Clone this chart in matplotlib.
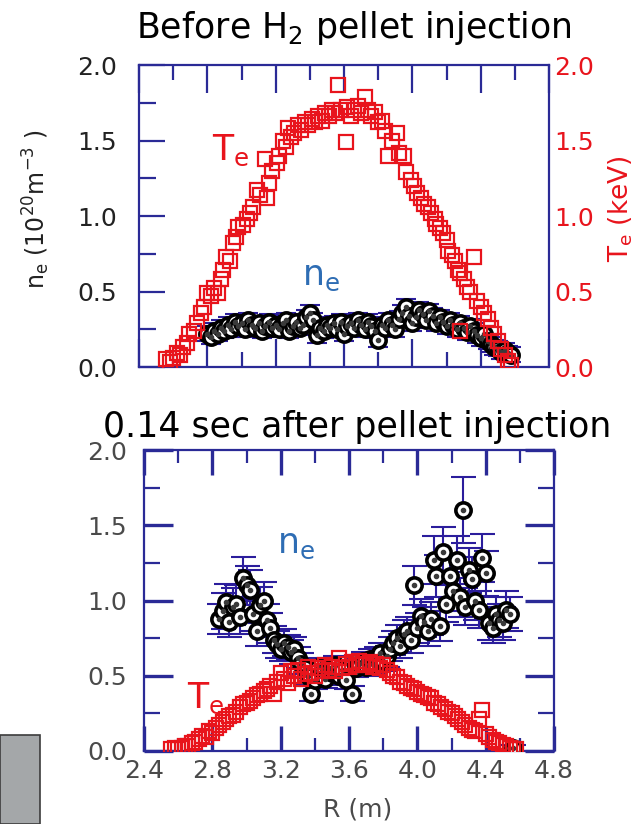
import matplotlib
matplotlib.use("Agg")
import matplotlib.pyplot as plt
from matplotlib.patches import Rectangle
from matplotlib.ticker import MultipleLocator

plt.rcParams["font.family"] = ["DejaVu Sans"]
plt.rcParams["mathtext.fontset"] = "dejavusans"

NAVY = "#2a2a96"
RED = "#e8141c"
LABEL_BLUE = "#2e6db4"
EBAR = "#2b1d9c"

X_TICKS = [2.4, 2.8, 3.2, 3.6, 4.0, 4.4, 4.8]
Y_TICKS = [0.0, 0.5, 1.0, 1.5, 2.0]

# ---- before pellet injection ----
TOP_R_TE = [2.56, 2.58, 2.60, 2.62, 2.64, 2.66, 2.68, 2.69, 2.72, 2.74, 2.76, 2.78,
            2.80, 2.82, 2.84, 2.86, 2.88, 2.89, 2.91, 2.93, 2.95, 2.97, 2.98, 3.01,
            3.03, 3.05, 3.07, 3.09, 3.11, 3.14, 3.15, 3.16, 3.18, 3.21, 3.22, 3.24,
            3.26, 3.27, 3.29, 3.31, 3.33, 3.35, 3.37, 3.39, 3.41, 3.43, 3.45, 3.47,
            3.49, 3.51, 3.53, 3.55, 3.565, 3.58, 3.61, 3.62, 3.64, 3.66, 3.68, 3.70,
            3.72, 3.74, 3.76, 3.78, 3.80, 3.82, 3.84, 3.86, 3.88, 3.91, 3.92, 3.95,
            3.96, 3.99, 4.01, 4.03, 4.05, 4.07, 4.09, 4.11, 4.13, 4.14, 4.16, 4.18,
            4.20, 4.21, 4.23, 4.25, 4.27, 4.28, 4.30, 4.32, 4.34, 4.36, 4.38, 4.40,
            4.42, 4.44, 4.46, 4.48, 4.50, 4.52, 4.54, 4.56, 4.58]
TOP_TE = [0.05, 0.03, 0.06, 0.09, 0.08, 0.13, 0.16, 0.22, 0.24, 0.29, 0.36, 0.40,
          0.49, 0.47, 0.52, 0.49, 0.58, 0.64, 0.73, 0.70, 0.82, 0.86, 0.93, 0.94,
          0.98, 1.02, 1.06, 1.17, 1.14, 1.38, 1.12, 1.22, 1.30, 1.35, 1.40, 1.50,
          1.46, 1.58, 1.52, 1.55, 1.60, 1.57, 1.62, 1.60, 1.64, 1.62, 1.66, 1.63,
          1.68, 1.66, 1.70, 1.68, 1.87, 1.70, 1.49, 1.72, 1.66, 1.70, 1.73, 1.68,
          1.79, 1.70, 1.66, 1.69, 1.62, 1.63, 1.56, 1.40, 1.50, 1.55, 1.42, 1.40,
          1.29, 1.24, 1.20, 1.15, 1.12, 1.08, 1.06, 1.02, 0.98, 0.95, 0.92, 0.89,
          0.84, 0.77, 0.74, 0.70, 0.64, 0.62, 0.58, 0.53, 0.50, 0.73, 0.44, 0.40,
          0.36, 0.32, 0.26, 0.22, 0.17, 0.12, 0.08, 0.04, 0.01]
TOP_R_TE_OUT = [4.28]
TOP_TE_OUT = [0.24]

TOP_R_NE = [2.80, 2.82, 2.84, 2.86, 2.88, 2.90, 2.92, 2.94, 2.96, 2.98, 3.00, 3.02,
            3.04, 3.06, 3.08, 3.10, 3.12, 3.14, 3.16, 3.18, 3.20, 3.22, 3.24, 3.26,
            3.28, 3.30, 3.32, 3.34, 3.36, 3.38, 3.40, 3.42, 3.44, 3.46, 3.48, 3.50,
            3.52, 3.54, 3.56, 3.58, 3.60, 3.62, 3.64, 3.66, 3.68, 3.70, 3.72, 3.74,
            3.76, 3.78, 3.80, 3.82, 3.84, 3.86, 3.88, 3.90, 3.92, 3.94, 3.96, 3.98,
            4.00, 4.02, 4.04, 4.06, 4.08, 4.10, 4.12, 4.14, 4.16, 4.18, 4.20, 4.22,
            4.24, 4.26, 4.28, 4.30, 4.32, 4.34, 4.36, 4.38, 4.40, 4.42, 4.44, 4.46,
            4.48, 4.50, 4.52, 4.54, 4.56, 4.58]
TOP_NE = [0.22, 0.20, 0.24, 0.22, 0.26, 0.24, 0.28, 0.25, 0.30, 0.27, 0.29, 0.25,
          0.31, 0.28, 0.26, 0.29, 0.24, 0.27, 0.30, 0.26, 0.28, 0.25, 0.29, 0.31,
          0.24, 0.27, 0.30, 0.26, 0.28, 0.33, 0.36, 0.31, 0.21, 0.26, 0.24, 0.28,
          0.26, 0.29, 0.25, 0.30, 0.22, 0.27, 0.29, 0.26, 0.31, 0.28, 0.25, 0.30,
          0.27, 0.24, 0.18, 0.28, 0.26, 0.31, 0.28, 0.25, 0.32, 0.36, 0.40, 0.34,
          0.29, 0.33, 0.38, 0.35, 0.31, 0.37, 0.34, 0.29, 0.33, 0.30, 0.27, 0.31,
          0.28, 0.25, 0.29, 0.26, 0.23, 0.27, 0.24, 0.21, 0.19, 0.22, 0.17, 0.15,
          0.13, 0.12, 0.10, 0.11, 0.09, 0.08]
TOP_NE_ERR = 0.05

# ---- 0.14 s after pellet injection ----
BOT_R_NE = [2.84, 2.86, 2.88, 2.90, 2.92, 2.94, 2.96, 2.98, 3.00, 3.02, 3.04, 3.06,
            3.08, 3.10, 3.12, 3.14, 3.16, 3.18, 3.20, 3.22, 3.24, 3.26, 3.28, 3.30,
            3.32, 3.34, 3.36, 3.38, 3.40, 3.42, 3.44, 3.46, 3.48, 3.50, 3.52, 3.54,
            3.56, 3.58, 3.62, 3.64, 3.66, 3.68, 3.70, 3.72, 3.74, 3.76, 3.78, 3.80,
            3.82, 3.84, 3.86, 3.88, 3.90, 3.92, 3.94, 3.96, 3.98, 4.00, 4.02, 4.04,
            4.06, 4.08, 4.10, 4.11, 4.13, 4.15, 4.17, 4.19, 4.21, 4.23, 4.25, 4.27,
            4.28, 4.30, 4.32, 4.34, 4.36, 4.38, 4.40, 4.42, 4.44, 4.46, 4.48, 4.50,
            4.52, 4.54, 4.56]
BOT_NE = [0.88, 0.93, 0.99, 0.86, 0.96, 0.98, 0.89, 1.15, 1.10, 1.07, 0.91, 0.80,
          0.97, 1.00, 0.87, 0.82, 0.74, 0.71, 0.68, 0.72, 0.69, 0.66, 0.68, 0.62,
          0.58, 0.55, 0.50, 0.38, 0.47, 0.56, 0.53, 0.48, 0.55, 0.52, 0.57, 0.50,
          0.54, 0.47, 0.38, 0.55, 0.58, 0.60, 0.56, 0.61, 0.58, 0.62, 0.65, 0.60,
          0.63, 0.68, 0.72, 0.75, 0.70, 0.78, 0.80, 0.74, 1.10, 0.82, 0.90, 0.86,
          0.80, 0.88, 1.27, 1.16, 0.83, 1.32, 0.98, 1.16, 1.06, 1.27, 1.02, 1.60,
          0.96, 1.20, 1.14, 1.00, 0.94, 1.28, 1.18, 0.85, 0.82, 0.91, 0.87, 0.85,
          0.94, 0.91, 0.02]
BOT_NE_ERR = [0.10, 0.12, 0.12, 0.10, 0.12, 0.12, 0.11, 0.14, 0.13, 0.13, 0.11, 0.10,
              0.12, 0.12, 0.11, 0.10, 0.09, 0.09, 0.08, 0.09, 0.08, 0.08, 0.08, 0.07,
              0.07, 0.06, 0.06, 0.05, 0.06, 0.06, 0.06, 0.06, 0.06, 0.06, 0.06, 0.06,
              0.06, 0.06, 0.05, 0.06, 0.06, 0.06, 0.06, 0.07, 0.06, 0.07, 0.07, 0.07,
              0.07, 0.08, 0.08, 0.09, 0.08, 0.09, 0.09, 0.09, 0.13, 0.10, 0.11, 0.10,
              0.10, 0.11, 0.16, 0.14, 0.10, 0.17, 0.12, 0.15, 0.13, 0.16, 0.13, 0.22,
              0.12, 0.15, 0.15, 0.13, 0.12, 0.16, 0.15, 0.11, 0.10, 0.11, 0.11, 0.11,
              0.12, 0.11, 0.02]

BOT_R_TE = [2.56, 2.58, 2.60, 2.62, 2.64, 2.66, 2.68, 2.70, 2.72, 2.74, 2.76, 2.78,
            2.80, 2.82, 2.84, 2.86, 2.88, 2.90, 2.92, 2.94, 2.96, 2.98, 3.00, 3.02,
            3.04, 3.06, 3.08, 3.10, 3.12, 3.14, 3.16, 3.18, 3.20, 3.22, 3.24, 3.26,
            3.28, 3.30, 3.32, 3.34, 3.36, 3.38, 3.40, 3.42, 3.44, 3.46, 3.48, 3.50,
            3.52, 3.54, 3.56, 3.58, 3.60, 3.62, 3.64, 3.66, 3.68, 3.70, 3.72, 3.74,
            3.76, 3.78, 3.80, 3.82, 3.84, 3.86, 3.88, 3.90, 3.92, 3.94, 3.96, 3.98,
            4.00, 4.02, 4.04, 4.06, 4.08, 4.10, 4.12, 4.14, 4.16, 4.18, 4.20, 4.22,
            4.24, 4.26, 4.28, 4.30, 4.32, 4.34, 4.36, 4.38, 4.40, 4.42, 4.44, 4.46,
            4.48, 4.50, 4.52, 4.54, 4.56, 4.58]
BOT_TE = [0.01, 0.02, 0.01, 0.02, 0.03, 0.03, 0.05, 0.06, 0.08, 0.10, 0.09, 0.13,
          0.12, 0.15, 0.17, 0.19, 0.21, 0.23, 0.24, 0.26, 0.29, 0.31, 0.32, 0.33,
          0.35, 0.37, 0.38, 0.40, 0.41, 0.43, 0.38, 0.46, 0.52, 0.48, 0.45, 0.53,
          0.50, 0.54, 0.48, 0.51, 0.56, 0.52, 0.50, 0.55, 0.53, 0.57, 0.54, 0.56,
          0.53, 0.62, 0.55, 0.58, 0.56, 0.59, 0.57, 0.60, 0.58, 0.57, 0.59, 0.56,
          0.58, 0.55, 0.57, 0.54, 0.52, 0.50, 0.49, 0.46, 0.45, 0.43, 0.42, 0.41,
          0.39, 0.38, 0.37, 0.36, 0.35, 0.32, 0.31, 0.29, 0.28, 0.26, 0.25, 0.23,
          0.21, 0.19, 0.17, 0.15, 0.14, 0.13, 0.21, 0.27, 0.11, 0.09, 0.07, 0.06,
          0.05, 0.04, 0.03, 0.02, 0.01, 0.01]


def style_axes(ax, tick_color, major_len, minor_len, xmaj_len, xmin_len, major_w, minor_w):
    ax.set_xlim(2.4, 4.8)
    ax.set_ylim(0.0, 2.0)
    ax.set_yticks(Y_TICKS)
    ax.yaxis.set_minor_locator(MultipleLocator(0.25))
    ax.xaxis.set_minor_locator(MultipleLocator(0.2))
    for s in ax.spines.values():
        s.set_color(NAVY)
        s.set_linewidth(1.6)
    ax.tick_params(axis="both", which="both", direction="in", color=NAVY,
                   top=True, right=True, labelcolor=tick_color, labelsize=18)
    ax.tick_params(axis="y", which="major", length=major_len, width=major_w)
    ax.tick_params(axis="y", which="minor", length=minor_len, width=minor_w)
    ax.tick_params(axis="x", which="major", length=xmaj_len, width=major_w)
    ax.tick_params(axis="x", which="minor", length=xmin_len, width=minor_w)


def draw_ne(ax, r, ne, err, ms, cap):
    ax.errorbar(r, ne, yerr=err, fmt="none", ecolor=EBAR, elinewidth=1.5,
                capsize=cap, capthick=1.5, zorder=2)
    ax.plot(r, ne, "o", ms=ms, mfc="white", mec="black", mew=2.6, zorder=3)
    ax.plot(r, ne, "o", ms=3, color="#3a3a3a", zorder=3)


fig = plt.figure(figsize=(6.4, 8.24), dpi=100)

# top panel
ax1 = fig.add_axes([139 / 640, 1 - 367 / 824, 410 / 640, 302 / 824])
style_axes(ax1, "#222222", 19, 12, 20, 11, 1.6, 1.6)
ax1.set_xticks(X_TICKS)
ax1.tick_params(axis="x", labelbottom=False)
ax1.tick_params(axis="y", pad=16)
draw_ne(ax1, TOP_R_NE, TOP_NE, TOP_NE_ERR, 11, 7)
ax1.plot(TOP_R_TE, TOP_TE, "s", ms=10.5, mfc="none", mec=RED, mew=1.6, zorder=4)
ax1.plot(TOP_R_TE_OUT, TOP_TE_OUT, "s", ms=10.5, mfc="none", mec=RED, mew=1.6, zorder=4)
ax1.text(2.83, 1.37, r"T$_\mathrm{e}$", color=RED, fontsize=25, va="baseline")
ax1.text(3.354, 0.543, r"n$_\mathrm{e}$", color=LABEL_BLUE, fontsize=25, va="baseline")
ax1.set_ylabel(r"n$_\mathrm{e}$ (10$^{20}$m$^{-3}$ )", fontsize=17, color="#222222")
ax1.yaxis.set_label_coords(-0.212, 0.523)

ax1r = ax1.twinx()
ax1r.set_ylim(0.0, 2.0)
ax1r.set_yticks(Y_TICKS)
ax1r.tick_params(axis="y", length=0, labelcolor=RED, labelsize=18, pad=4)
for s in ax1r.spines.values():
    s.set_visible(False)
ax1r.set_ylabel(r"T$_\mathrm{e}$ (keV)", fontsize=19, color=RED)
ax1r.yaxis.set_label_coords(1.141, 0.526)

# bottom panel
ax2 = fig.add_axes([144 / 640, 1 - 751 / 824, 410 / 640, 301 / 824])
style_axes(ax2, "#4a4a4a", 21, 11.5, 18, 9.5, 2.4, 1.6)
ax2.set_xticks(X_TICKS)
ax2.set_xticklabels([f"{v:.1f}" for v in X_TICKS])
ax2.tick_params(axis="y", pad=12)
ax2.tick_params(axis="x", pad=6)
draw_ne(ax2, BOT_R_NE, BOT_NE, BOT_NE_ERR, 11, 9)
ax2.plot(BOT_R_TE, BOT_TE, "s", ms=10.5, mfc="none", mec=RED, mew=1.6, zorder=4)
ax2.text(3.178, 1.316, r"n$_\mathrm{e}$", color=LABEL_BLUE, fontsize=25, va="baseline")
ax2.text(2.652, 0.286, r"T$_\mathrm{e}$", color=RED, fontsize=25, va="baseline")
ax2.set_xlabel("R (m)", fontsize=18, color="#4a4a4a")
ax2.xaxis.set_label_coords(0.52, -0.156)

# titles
fig.text(354 / 640, 1 - 38 / 824, r"Before H$_2$ pellet injection", fontsize=25,
         ha="center", va="baseline", color="black")
fig.text(357 / 640, 1 - 437 / 824, "0.14 sec after pellet injection", fontsize=25,
         ha="center", va="baseline", color="black")

# grey box from the slide at lower left
fig.add_artist(Rectangle((0, 0), 40 / 640, 89 / 824, transform=fig.transFigure,
                         fc="#a4a7a9", ec="#3c3c3c", lw=1.2))

fig.savefig("out.png", dpi=100)
